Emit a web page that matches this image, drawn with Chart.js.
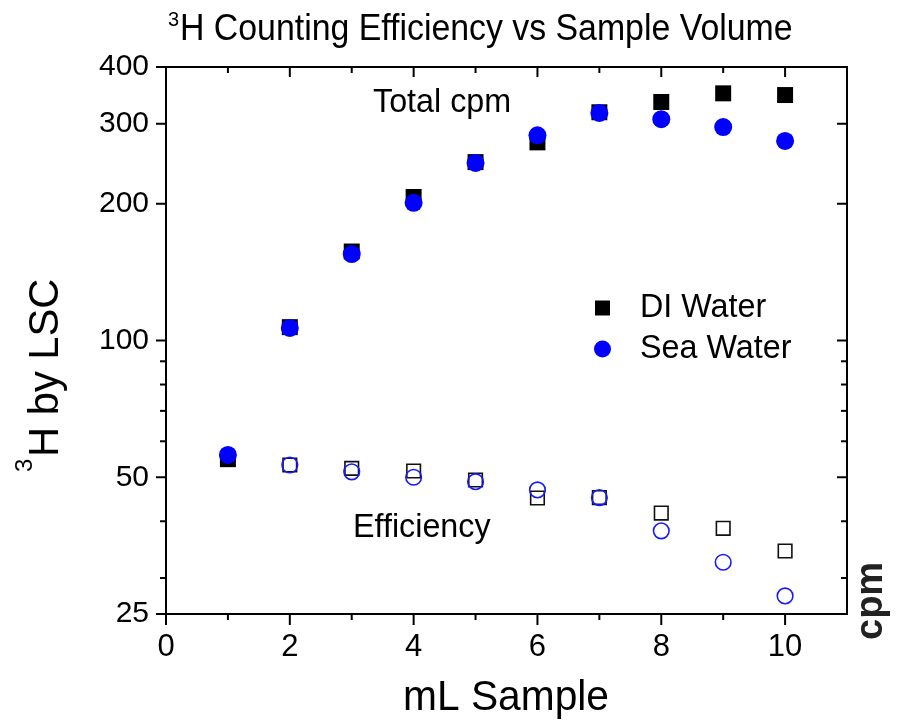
<!DOCTYPE html>
<html lang="en">
<head>
<meta charset="utf-8"/>
<title>3H Counting Efficiency vs Sample Volume</title>
<style>
    body, html {
      margin: 0;
      padding: 0;
      background: #fff;
    }
    canvas {
      display: block;
    }
  </style>
</head>
<body>
<canvas height="723" id="chart" width="897"></canvas>
<script src="https://cdn.jsdelivr.net/npm/chart.js"></script>
<script>
    // values
    const volumes = [1, 2, 3, 4, 5, 6, 7, 8, 9, 10];
    const diTotal = [54.8, 107, 157, 207, 247, 273, 318, 335, 350, 347];
    const seaTotal = [56, 106.6, 155, 201, 246, 283, 317, 307, 295, 275];

    const effVolumes = [2, 3, 4, 5, 6, 7, 8, 9, 10];
    const diEff = [53.2, 52.3, 51.6, 49.3, 45, 45.1, 41.7, 38.6, 34.4];
    const seaEff = [53.2, 51.4, 50, 48.9, 46.9, 45.1, 38.1, 32.5, 27.4];

    const xMajor = [0, 2, 4, 6, 8, 10];
    const xMinor = [1, 3, 5, 7, 9];
    const yMajor = [25, 50, 100, 200, 300, 400];
    const yMinor = [30, 40, 60, 70, 80, 90];

    const FONT = '"Liberation Sans", Arial, sans-serif';
    Chart.defaults.font.family = FONT;
    Chart.defaults.color = '#000';

    function pts(xs, ys) {
      return xs.map((x, i) => ({ x: x, y: ys[i] }));
    }

    // text with optional horizontal squeeze (the original fonts look narrow)
    function text(ctx, str, x, y, size, opts) {
      opts = opts || {};
      ctx.save();
      ctx.font = (opts.weight || '') + ' ' + size + 'px ' + FONT;
      ctx.fillStyle = opts.color || '#000';
      ctx.textAlign = opts.align || 'left';
      ctx.textBaseline = 'alphabetic';
      ctx.translate(x, y);
      if (opts.rotate) ctx.rotate(opts.rotate);
      ctx.scale(opts.sx || 1, 1);
      ctx.fillText(str, 0, 0);
      ctx.restore();
    }

    const framePlugin = {
      id: 'frame',
      beforeDatasetsDraw(chart) {
        const ctx = chart.ctx;
        const a = chart.chartArea;
        const xs = chart.scales.x, ys = chart.scales.y;
        ctx.save();
        ctx.strokeStyle = '#000';
        ctx.lineWidth = 2;
        ctx.strokeRect(a.left, a.top, a.right - a.left, a.bottom - a.top);

        const tick = (x1, y1, x2, y2) => {
          ctx.beginPath();
          ctx.moveTo(x1, y1);
          ctx.lineTo(x2, y2);
          ctx.stroke();
        };
        xMajor.forEach(v => {
          const px = xs.getPixelForValue(v);
          tick(px, a.bottom, px, a.bottom + 11);
          tick(px, a.top, px, a.top + 10);
        });
        xMinor.forEach(v => {
          const px = xs.getPixelForValue(v);
          tick(px, a.bottom, px, a.bottom + 6);
          tick(px, a.top, px, a.top + 6);
        });
        yMajor.forEach(v => {
          const py = ys.getPixelForValue(v);
          tick(a.left, py, a.left - 10, py);
          tick(a.right, py, a.right - 10, py);
        });
        yMinor.forEach(v => {
          const py = ys.getPixelForValue(v);
          tick(a.left, py, a.left - 6, py);
          tick(a.right, py, a.right - 6, py);
        });
        ctx.restore();
      },
      afterDraw(chart) {
        const ctx = chart.ctx;

        // title with superscript 3
        text(ctx, '3', 168, 26, 20);
        text(ctx, 'H Counting Efficiency vs Sample Volume', 180, 40, 36, { sx: 0.94 });

        // axis titles
        text(ctx, 'mL Sample', 506, 710, 42, { align: 'center', sx: 0.97 });
        text(ctx, 'H by LSC', 58, 457, 43, { rotate: -Math.PI / 2, sx: 0.97 });
        text(ctx, '3', 32, 472, 24, { rotate: -Math.PI / 2 });
        text(ctx, 'cpm', 882, 640, 38, { rotate: -Math.PI / 2, weight: 'bold', color: '#222' });

        // labels inside the plot
        text(ctx, 'Total cpm', 373, 112, 34, { sx: 0.95 });
        text(ctx, 'Efficiency', 353, 537, 34, { sx: 0.95 });

        // legend
        ctx.save();
        ctx.fillStyle = '#000';
        ctx.fillRect(595, 300.5, 15, 15);
        ctx.fillStyle = '#0000ff';
        ctx.beginPath();
        ctx.arc(602.5, 349, 8.5, 0, Math.PI * 2);
        ctx.fill();
        ctx.restore();
        text(ctx, 'DI Water', 640, 317, 34, { sx: 0.95 });
        text(ctx, 'Sea Water', 640, 358, 34, { sx: 0.95 });
      }
    };

    new Chart(document.getElementById('chart').getContext('2d'), {
      type: 'scatter',
      data: {
        datasets: [
          {
            label: 'DI Water total',
            data: pts(volumes, diTotal),
            pointStyle: 'rect',
            pointRadius: 11.3,
            backgroundColor: '#000',
            borderWidth: 0,
            order: 4
          },
          {
            label: 'Sea Water total',
            data: pts(volumes, seaTotal),
            pointStyle: 'circle',
            pointRadius: 9,
            backgroundColor: '#0000ff',
            borderWidth: 0,
            order: 3
          },
          {
            label: 'DI Water efficiency',
            data: pts(effVolumes, diEff),
            pointStyle: 'rect',
            pointRadius: 9.6,
            backgroundColor: 'rgba(0,0,0,0)',
            borderColor: '#111',
            borderWidth: 1.6,
            order: 2
          },
          {
            label: 'Sea Water efficiency',
            data: pts(effVolumes, seaEff),
            pointStyle: 'circle',
            pointRadius: 7.8,
            backgroundColor: 'rgba(0,0,0,0)',
            borderColor: '#1a1aff',
            borderWidth: 1.6,
            order: 1
          }
        ]
      },
      options: {
        responsive: false,
        animation: false,
        events: [],
        layout: {
          padding: { top: 67, right: 50, left: 0, bottom: 0 }
        },
        plugins: {
          legend: { display: false },
          tooltip: { enabled: false },
          title: { display: false }
        },
        scales: {
          x: {
            type: 'linear',
            min: 0,
            max: 11,
            grid: { display: false, drawTicks: false },
            border: { display: false },
            afterBuildTicks: scale => {
              scale.ticks = xMajor.map(v => ({ value: v }));
            },
            afterFit: scale => {
              scale.height = 109;
            },
            ticks: {
              font: { size: 31 },
              color: '#000',
              padding: 15,
              maxRotation: 0,
              callback: v => v
            }
          },
          y: {
            type: 'logarithmic',
            min: 25,
            max: 400,
            grid: { display: false, drawTicks: false },
            border: { display: false },
            afterBuildTicks: scale => {
              scale.ticks = yMajor.map(v => ({ value: v }));
            },
            afterFit: scale => {
              scale.width = 166;
            },
            ticks: {
              font: { size: 30 },
              color: '#000',
              padding: 17,
              callback: v => String(v)
            }
          }
        }
      },
      plugins: [framePlugin]
    });
  </script>
</body>
</html>
